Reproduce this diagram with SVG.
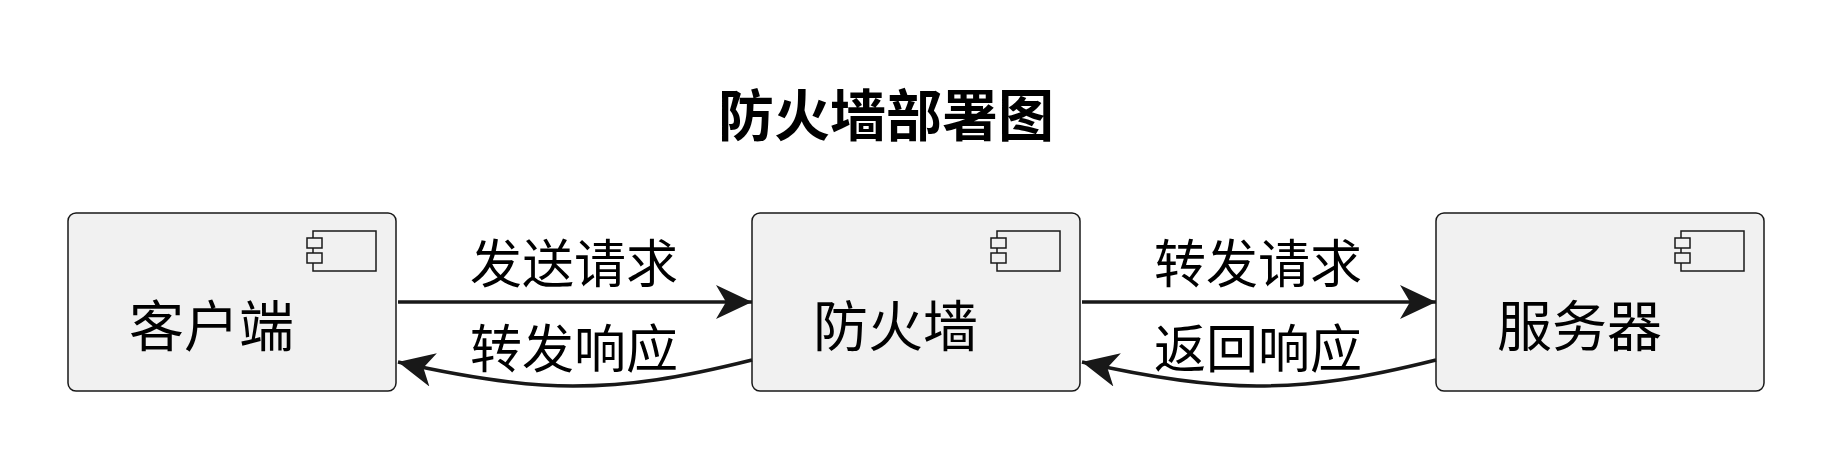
<svg xmlns="http://www.w3.org/2000/svg" width="1832" height="460" viewBox="0 0 1832 460">
<style>
.box{fill:#f1f1f1;stroke:#181818;stroke-width:1.5}
.ic{fill:#f1f1f1;stroke:#181818;stroke-width:1.5}
.t{font-family:"Noto Sans CJK SC",sans-serif;fill:#000}
.lbl{font-size:55px}
.el{font-size:52px;text-anchor:middle}
.ln{fill:none;stroke:#181818;stroke-width:3.5}
</style>
<defs>
<marker id="ah" markerUnits="userSpaceOnUse" markerWidth="40" markerHeight="40" refX="36" refY="20" orient="auto">
<path d="M0,3 L36,20 L0,37 L10,20 Z" fill="#181818"/>
</marker>
</defs>
<rect width="1832" height="460" fill="#fff"/>
<text class="t" x="886" y="136" font-size="56" font-weight="bold" text-anchor="middle">防火墙部署图</text>
<g id="client">
<rect class="box" x="68" y="213" width="328" height="178" rx="8"/>
<rect class="ic" x="313" y="231" width="63" height="40"/>
<rect class="ic" x="307" y="238" width="15" height="10"/>
<rect class="ic" x="307" y="253" width="15" height="10"/>
<text class="t lbl" x="129" y="346">客户端</text>
</g>
<g id="firewall">
<rect class="box" x="752" y="213" width="328" height="178" rx="8"/>
<rect class="ic" x="997" y="231" width="63" height="40"/>
<rect class="ic" x="991" y="238" width="15" height="10"/>
<rect class="ic" x="991" y="253" width="15" height="10"/>
<text class="t lbl" x="813" y="346">防火墙</text>
</g>
<g id="server">
<rect class="box" x="1436" y="213" width="328" height="178" rx="8"/>
<rect class="ic" x="1681" y="231" width="63" height="40"/>
<rect class="ic" x="1675" y="238" width="15" height="10"/>
<rect class="ic" x="1675" y="253" width="15" height="10"/>
<text class="t lbl" x="1497" y="346">服务器</text>
</g>
<g id="connectors">
<path class="ln" d="M398,302 L752,302" marker-end="url(#ah)"/>
<path class="ln" d="M752,360 C680,378 630,386 573,386 C520,386 460,376 398,362" marker-end="url(#ah)"/>
<path class="ln" d="M1082,302 L1436,302" marker-end="url(#ah)"/>
<path class="ln" d="M1436,360 C1364,378 1314,386 1257,386 C1204,386 1144,376 1082,362" marker-end="url(#ah)"/>
<text class="t el" x="574" y="283">发送请求</text>
<text class="t el" x="574" y="368">转发响应</text>
<text class="t el" x="1258" y="283">转发请求</text>
<text class="t el" x="1258" y="368">返回响应</text>
</g>
</svg>
